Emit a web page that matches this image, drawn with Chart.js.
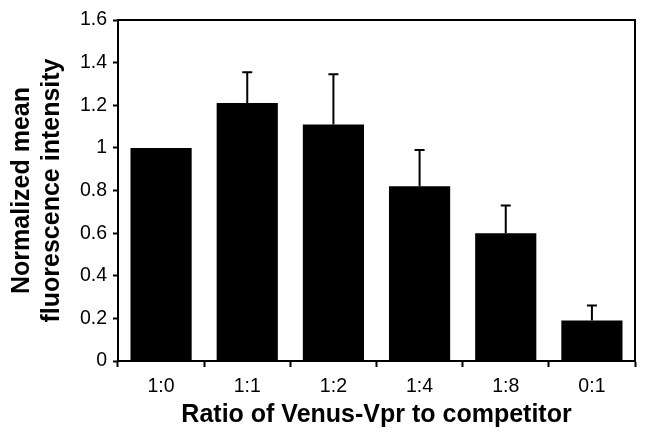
<!DOCTYPE html>
<html>
<head>
<meta charset="utf-8">
<script src="https://cdn.jsdelivr.net/npm/chart.js@4"></script>
<style>
  html, body { margin: 0; padding: 0; background: #fff; }
  #wrap { width: 648px; height: 440px; }
</style>
</head>
<body>
<div id="wrap"><canvas id="chart" width="648" height="440"></canvas></div>
<script>
// Data
const categories = ['1:0', '1:1', '1:2', '1:4', '1:8', '0:1'];
const meanValues = [1.0, 1.21, 1.11, 0.82, 0.6, 0.19];
const errorUpper = [0, 0.145, 0.235, 0.17, 0.13, 0.07];
const yTickValues = [0, 0.2, 0.4, 0.6, 0.8, 1, 1.2, 1.4, 1.6];

const FONT = '"Liberation Sans", Arial, sans-serif';

// Upward-only error bars
const errorBars = {
  id: 'errorBars',
  afterDatasetsDraw(chart) {
    const ctx = chart.ctx;
    const meta = chart.getDatasetMeta(0);
    const y = chart.scales.y;
    ctx.save();
    ctx.strokeStyle = '#000';
    ctx.lineWidth = 2;
    meta.data.forEach((bar, i) => {
      const err = errorUpper[i];
      if (!err) return;
      const yTop = y.getPixelForValue(meanValues[i] + err);
      const yBase = y.getPixelForValue(meanValues[i]);
      ctx.beginPath();
      ctx.moveTo(bar.x, yBase);
      ctx.lineTo(bar.x, yTop);
      ctx.moveTo(bar.x - 5, yTop);
      ctx.lineTo(bar.x + 5, yTop);
      ctx.stroke();
    });
    ctx.restore();
  }
};

// Box around the plot area (top and right edges)
const frame = {
  id: 'frame',
  afterDraw(chart) {
    const a = chart.chartArea;
    const ctx = chart.ctx;
    ctx.save();
    ctx.strokeStyle = '#000';
    ctx.lineWidth = 2;
    ctx.strokeRect(a.left, a.top, a.right - a.left, a.bottom - a.top);
    ctx.restore();
  }
};

new Chart(document.getElementById('chart').getContext('2d'), {
  type: 'bar',
  data: {
    labels: categories,
    datasets: [{
      data: meanValues,
      backgroundColor: '#000',
      borderWidth: 0,
      barPercentage: 0.71,
      categoryPercentage: 1
    }]
  },
  options: {
    responsive: false,
    animation: false,
    layout: { padding: { top: 20, right: 13, left: 0, bottom: 0 } },
    plugins: { legend: { display: false }, tooltip: { enabled: false } },
    scales: {
      x: {
        afterFit(scale) { scale.height = 79; },
        grid: { offset: true, drawOnChartArea: false, drawTicks: true, tickLength: 6, tickColor: '#000', tickWidth: 2 },
        border: { display: true, color: '#000', width: 2 },
        ticks: { color: '#000', padding: 8, font: { family: FONT, size: 19.5 } },
        title: {
          display: true,
          text: 'Ratio of Venus-Vpr to competitor',
          color: '#000',
          font: { family: FONT, size: 25, weight: 'bold', lineHeight: 1.2 },
          padding: { top: 0, bottom: 10 }
        }
      },
      y: {
        min: 0,
        max: 1.6,
        afterFit(scale) { scale.width = 118; },
        afterBuildTicks(scale) { scale.ticks = yTickValues.map(v => ({ value: v })); },
        grid: { drawOnChartArea: false, drawTicks: true, tickLength: 5, tickColor: '#000', tickWidth: 2 },
        border: { display: true, color: '#000', width: 2 },
        ticks: {
          color: '#000',
          padding: 6,
          font: { family: FONT, size: 19.5 },
          callback: v => String(Math.round(v * 10) / 10)
        },
        title: {
          display: true,
          text: ['Normalized mean', 'fluorescence intensity'],
          color: '#000',
          font: { family: FONT, size: 25, weight: 'bold', lineHeight: 1.2 },
          padding: { top: 7, bottom: 0 }
        }
      }
    }
  },
  plugins: [errorBars, frame]
});
</script>
</body>
</html>
